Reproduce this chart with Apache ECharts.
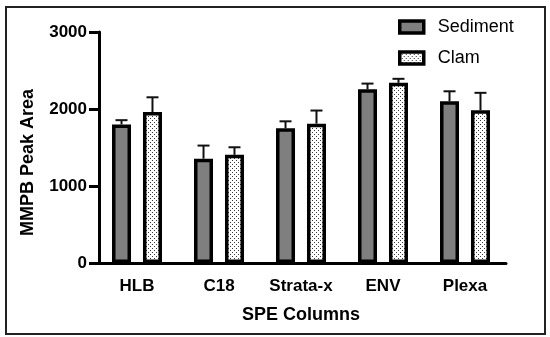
<!DOCTYPE html>
<html>
<head>
<meta charset="utf-8">
<script src="https://cdn.jsdelivr.net/npm/echarts@6/dist/echarts.min.js"></script>
<style>
html,body{margin:0;padding:0;background:#fff;}
#chart{width:550px;height:337px;}
</style>
</head>
<body>
<div id="chart"></div>
<script>
const categories = ['HLB', 'C18', 'Strata-x', 'ENV', 'Plexa'];
const sediment = [1800, 1355, 1750, 2255, 2100];
const clam = [1960, 1405, 1810, 2340, 1985];
const sedimentErr = [55, 170, 90, 75, 130];
const clamErr = [192, 98, 170, 52, 225];
const yTicks = [0, 1000, 2000, 3000];

const FONT = '"Liberation Sans", Arial, sans-serif';

// stipple pattern for Clam bars
const pc = document.createElement('canvas');
pc.width = 4; pc.height = 4;
const pctx = pc.getContext('2d');
pctx.fillStyle = '#ffffff';
pctx.fillRect(0, 0, 4, 4);
pctx.fillStyle = '#3a3a3a';
pctx.fillRect(0, 0, 1, 1);
pctx.fillRect(2, 2, 1, 1);
const stipple = { image: pc, repeat: 'repeat' };

const BAR_W = 19;
const BAR_GAP = 0.63;
const HALF = (BAR_W + BAR_GAP * BAR_W) / 2;

function errSeries(name, vals, errs, dir) {
  return {
    type: 'custom',
    name: name + ' err',
    z: 1,
    silent: true,
    data: vals.map((v, i) => [i, v, errs[i]]),
    renderItem: function (params, api) {
      const i = api.value(0);
      const v = api.value(1);
      const e = api.value(2);
      const base = api.coord([i, v]);
      const top = api.coord([i, v + e]);
      const x = base[0] + dir * HALF;
      const style = { stroke: '#111', lineWidth: 2 };
      return {
        type: 'group',
        children: [
          { type: 'line', shape: { x1: x, y1: base[1], x2: x, y2: top[1] }, style: style },
          { type: 'line', shape: { x1: x - 6, y1: top[1], x2: x + 6, y2: top[1] }, style: style }
        ]
      };
    }
  };
}

const chart = echarts.init(document.getElementById('chart'));
chart.setOption({
  animation: false,
  backgroundColor: '#fff',
  grid: { left: 96, top: 32, width: 410, height: 231 },
  legend: {
    orient: 'vertical',
    left: 398,
    top: 18,
    padding: 0,
    itemWidth: 24,
    itemHeight: 12,
    itemGap: 13,
    icon: 'rect',
    data: ['Sediment', 'Clam'],
    itemStyle: { borderColor: '#000', borderWidth: 3.5 },
    textStyle: { fontFamily: FONT, fontSize: 18, color: '#000', padding: [0, 0, 0, 9] }
  },
  xAxis: {
    type: 'category',
    data: categories,
    name: 'SPE Columns',
    nameLocation: 'middle',
    nameGap: 43,
    nameTextStyle: { fontFamily: FONT, fontSize: 18, fontWeight: 'bold', color: '#000' },
    axisLine: { lineStyle: { color: '#000', width: 3 } },
    axisTick: { alignWithLabel: true, length: 10, lineStyle: { color: '#000', width: 3 } },
    axisLabel: { interval: 0, margin: 15, fontFamily: FONT, fontSize: 17, fontWeight: 'bold', color: '#000' }
  },
  yAxis: {
    type: 'value',
    min: 0,
    max: 3000,
    interval: 1000,
    offset: -3,
    name: 'MMPB Peak Area',
    nameLocation: 'middle',
    nameGap: 62,
    nameTextStyle: { fontFamily: FONT, fontSize: 18, fontWeight: 'bold', color: '#000', padding: [0, 30, 0, 0] },
    splitLine: { show: false },
    axisLine: { show: true, lineStyle: { color: '#000', width: 3 } },
    axisTick: { show: true, length: 10, lineStyle: { color: '#000', width: 3 } },
    axisLabel: {
      margin: 12, fontFamily: FONT, fontSize: 17, fontWeight: 'bold', color: '#000',
      formatter: function (v) { return yTicks.indexOf(v) >= 0 ? String(v) : ''; }
    }
  },
  series: [
    errSeries('Sediment', sediment, sedimentErr, -1),
    errSeries('Clam', clam, clamErr, 1),
    {
      type: 'bar', name: 'Sediment', data: sediment, z: 2,
      barWidth: BAR_W, barGap: (BAR_GAP * 100) + '%',
      itemStyle: { color: '#7f7f7f', borderColor: '#000', borderWidth: 3.5 }
    },
    {
      type: 'bar', name: 'Clam', data: clam, z: 2,
      barWidth: BAR_W, barGap: (BAR_GAP * 100) + '%',
      itemStyle: { color: stipple, borderColor: '#000', borderWidth: 3.5 }
    }
  ],
  graphic: [{
    type: 'rect', silent: true, z: 100,
    shape: { x: 6, y: 7, width: 539, height: 327 },
    style: { fill: null, stroke: '#222', lineWidth: 2 }
  }]
});
</script>
</body>
</html>
